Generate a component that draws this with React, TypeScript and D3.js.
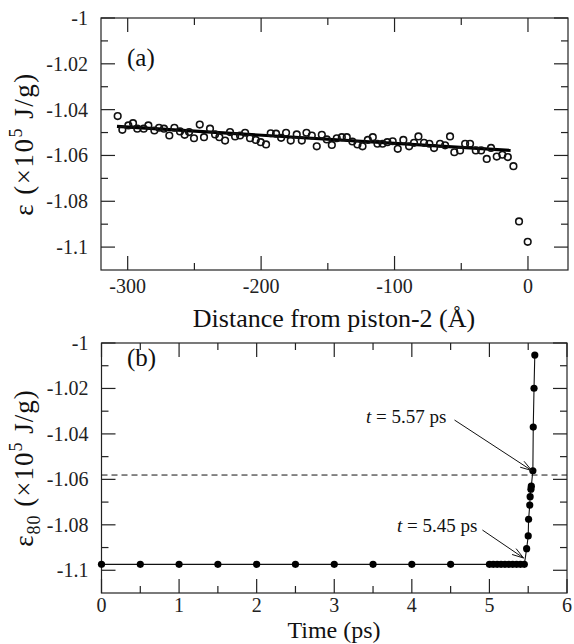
import React from 'react';
import * as d3 from 'd3';

// ---------- Panel (a) data ----------
const distA = [
  -307.5, -304, -299.5, -296, -292.8, -288, -284.5, -280, -276.5, -272.8, -268.8, -265, -260.8, -257.3,
  -254, -250.3, -246, -242.8, -238.3, -234.5, -231.3, -227, -223.3, -219.5, -215.8, -212, -208.3, -204,
  -200.3, -196.3, -192.8, -188.8, -185, -181.3, -177.8, -173.3, -169.5, -166, -162, -158.3, -154.5, -150.8,
  -147, -143.3, -139.5, -135.8, -131.6, -127.8, -124, -120, -116.3, -112.8, -109, -105.4, -101.4, -97.6,
  -93.4, -89.1, -85.4, -82.1, -77.9, -73.9, -70.4, -65.9, -62.1, -58.4, -55.2, -50.9, -47.1, -43.4,
  -39.1, -35.1, -30.9, -27.7, -23.4, -19.2, -15.1, -10.9, -6.7, -0.2,
];
const epsA = [
  -1.0428, -1.0488, -1.0469, -1.0459, -1.0483, -1.0483, -1.0469, -1.0491, -1.0479, -1.0483, -1.0513, -1.0479, -1.0495, -1.051,
  -1.0498, -1.0525, -1.0465, -1.052, -1.0483, -1.0508, -1.052, -1.0535, -1.0498, -1.0517, -1.0513, -1.0501, -1.0525, -1.0532,
  -1.0542, -1.0552, -1.0503, -1.0505, -1.0523, -1.0501, -1.0535, -1.0508, -1.0535, -1.0501, -1.0513, -1.056, -1.051, -1.053,
  -1.0554, -1.0525, -1.052, -1.052, -1.0539, -1.0552, -1.056, -1.0532, -1.052, -1.0549, -1.0549, -1.0542, -1.0538, -1.0571,
  -1.0532, -1.056, -1.0545, -1.0517, -1.0545, -1.0549, -1.0568, -1.0549, -1.0556, -1.0517, -1.0586, -1.0578, -1.0549, -1.0549,
  -1.0578, -1.0578, -1.0615, -1.0567, -1.0605, -1.0597, -1.0607, -1.0647, -1.0888, -1.0977,
];
const fitDist = [-308, -13];
const fitEps = [-1.0473, -1.0578];

// ---------- Panel (b) data ----------
const timeB = [
  0, 0.5, 1, 1.5, 2, 2.5, 3, 3.5, 4, 4.5,
  5.0, 5.05, 5.1, 5.15, 5.2, 5.25, 5.3, 5.35, 5.4, 5.45,
  5.48, 5.5, 5.505, 5.52, 5.525, 5.535, 5.54, 5.56, 5.565, 5.575, 5.585,
];
const epsB = [
  -1.0974, -1.0974, -1.0974, -1.0974, -1.0974, -1.0974, -1.0974, -1.0974, -1.0974, -1.0974,
  -1.0974, -1.0974, -1.0974, -1.0974, -1.0974, -1.0974, -1.0974, -1.0974, -1.0974, -1.0974,
  -1.0905, -1.0849, -1.0776, -1.0713, -1.0676, -1.0643, -1.063, -1.0562, -1.037, -1.0199, -1.0053,
];
const thresholdB = -1.0581;

// annotations: label time value, text anchor (t, eps), arrow start (t, eps), arrow tip (t, eps)
const annoLabels = ['5.57', '5.45'];
const annoTextT = [3.41, 3.81];
const annoTextE = [-1.0352, -1.0832];
const annoFromT = [4.55, 4.91];
const annoFromE = [-1.0339, -1.0823];
const annoToT = [5.545, 5.44];
const annoToE = [-1.0561, -1.0946];

// ---------- ticks ----------
const yMajor = [-1.1, -1.08, -1.06, -1.04, -1.02, -1];
const yMinor = [-1.09, -1.07, -1.05, -1.03, -1.01];
const yLabels = ['-1.1', '-1.08', '-1.06', '-1.04', '-1.02', '-1'];
const xMajorA = [-300, -200, -100, 0];
const xMinorA = [-250, -150, -50];
const xLabelsA = ['-300', '-200', '-100', '0'];
const xMajorB = [0, 1, 2, 3, 4, 5, 6];
const xMinorB = [0.5, 1.5, 2.5, 3.5, 4.5, 5.5];
const xLabelsB = ['0', '1', '2', '3', '4', '5', '6'];

const FONT = "'Liberation Serif', 'DejaVu Serif', serif";
const MAJ = 14;
const MIN = 7;
const TICK_FS = 20;
const TITLE_FS = 26;

type Scale = d3.ScaleLinear<number, number>;

function Frame({ x, y, xMajor, xMinor, xLabels, labelDy }: { x: Scale; y: Scale; xMajor: number[]; xMinor: number[]; xLabels: string[]; labelDy: number }) {
  const [x0, x1] = x.range();
  const [y0, y1] = y.range(); // y0 bottom, y1 top
  const c = '#222';
  return (
    <g>
      <rect x={x0} y={y1} width={x1 - x0} height={y0 - y1} fill="none" stroke={c} strokeWidth={1.2} />
      {xMajor.map((v, i) => (
        <g key={'xm' + i}>
          <line x1={x(v)} x2={x(v)} y1={y0} y2={y0 - MAJ} stroke={c} strokeWidth={1.2} />
          <line x1={x(v)} x2={x(v)} y1={y1} y2={y1 + MAJ} stroke={c} strokeWidth={1.2} />
          <text x={x(v)} y={y0 + labelDy} textAnchor="middle" fontSize={TICK_FS} fontFamily={FONT} fill="#222">{xLabels[i]}</text>
        </g>
      ))}
      {xMinor.map((v, i) => (
        <g key={'xn' + i}>
          <line x1={x(v)} x2={x(v)} y1={y0} y2={y0 - MIN} stroke={c} strokeWidth={1.2} />
          <line x1={x(v)} x2={x(v)} y1={y1} y2={y1 + MIN} stroke={c} strokeWidth={1.2} />
        </g>
      ))}
      {yMajor.map((v, i) => (
        <g key={'ym' + i}>
          <line x1={x0} x2={x0 + MAJ} y1={y(v)} y2={y(v)} stroke={c} strokeWidth={1.2} />
          <line x1={x1} x2={x1 - MAJ} y1={y(v)} y2={y(v)} stroke={c} strokeWidth={1.2} />
          <text x={x0 - 13} y={y(v)} dy="0.35em" textAnchor="end" fontSize={TICK_FS} fontFamily={FONT} fill="#222">{yLabels[i]}</text>
        </g>
      ))}
      {yMinor.map((v, i) => (
        <g key={'yn' + i}>
          <line x1={x0} x2={x0 + MIN} y1={y(v)} y2={y(v)} stroke={c} strokeWidth={1.2} />
          <line x1={x1} x2={x1 - MIN} y1={y(v)} y2={y(v)} stroke={c} strokeWidth={1.2} />
        </g>
      ))}
    </g>
  );
}

export default function App() {
  const xA = d3.scaleLinear().domain([-320, 30]).range([101, 568]);
  const yA = d3.scaleLinear().domain([-1.11, -1]).range([270, 18]);
  const xB = d3.scaleLinear().domain([0, 6]).range([101.5, 567]);
  const yB = d3.scaleLinear().domain([-1.11, -1]).range([593, 343]);

  const fitLine = d3.line<number>().x((d) => xA(d)).y((_, i) => yA(fitEps[i]));
  const lineB = d3.line<number>().x((d) => xB(d)).y((_, i) => yB(epsB[i]));

  const arrowHead = (fx: number, fy: number, tx: number, ty: number) => {
    const ang = Math.atan2(ty - fy, tx - fx);
    const L = 12, a = 0.3;
    const p1 = [tx - L * Math.cos(ang - a), ty - L * Math.sin(ang - a)];
    const p2 = [tx - L * Math.cos(ang + a), ty - L * Math.sin(ang + a)];
    return `M${p1[0]},${p1[1]}L${tx},${ty}L${p2[0]},${p2[1]}`;
  };

  return (
    <svg width={574} height={644} style={{ position: 'absolute', left: 0, top: 0, background: '#fff' }}>
      <rect width={574} height={644} fill="#fff" />
      {/* Panel (a) */}
      <Frame x={xA} y={yA} xMajor={xMajorA} xMinor={xMinorA} xLabels={xLabelsA} labelDy={23} />
      <path d={fitLine(fitDist) || ''} fill="none" stroke="#000" strokeWidth={3.2} />
      {distA.map((d, i) => (
        <circle key={'a' + i} cx={xA(d)} cy={yA(epsA[i])} r={3.3} fill="none" stroke="#111" strokeWidth={1.6} />
      ))}
      <text x={127} y={66} fontSize={25} fontFamily={FONT} fill="#111">(a)</text>
      <text x={334} y={327} textAnchor="middle" fontSize={TITLE_FS} fontFamily={FONT} fill="#111">Distance from piston-2 (Å)</text>
      <text transform={`translate(33,${(18 + 270) / 2}) rotate(-90)`} textAnchor="middle" fontSize={27} letterSpacing={1.5} fontFamily={FONT} fill="#111">
        ε (×10<tspan dy={-11} fontSize={18}>5</tspan><tspan dy={11}> J/g)</tspan>
      </text>

      {/* Panel (b) */}
      <Frame x={xB} y={yB} xMajor={xMajorB} xMinor={xMinorB} xLabels={xLabelsB} labelDy={19} />
      <line x1={xB(0)} x2={xB(6)} y1={yB(thresholdB)} y2={yB(thresholdB)} stroke="#111" strokeWidth={1} strokeDasharray="6,4" />
      <path d={lineB(timeB) || ''} fill="none" stroke="#111" strokeWidth={1.1} />
      {timeB.map((t, i) => (
        <circle key={'b' + i} cx={xB(t)} cy={yB(epsB[i])} r={3.6} fill="#000" />
      ))}
      {annoLabels.map((lab, i) => {
        const fx = xB(annoFromT[i]), fy = yB(annoFromE[i]);
        const tx = xB(annoToT[i]), ty = yB(annoToE[i]);
        return (
          <g key={'an' + i}>
            <text x={xB(annoTextT[i])} y={yB(annoTextE[i])} fontSize={19} fontFamily={FONT} fill="#111">
              <tspan fontStyle="italic">t</tspan> = {lab} ps
            </text>
            <line x1={fx} y1={fy} x2={tx} y2={ty} stroke="#111" strokeWidth={1} />
            <path d={arrowHead(fx, fy, tx, ty)} fill="none" stroke="#111" strokeWidth={1} />
          </g>
        );
      })}
      <text x={127} y={366} fontSize={25} fontFamily={FONT} fill="#111">(b)</text>
      <text x={334} y={638} textAnchor="middle" fontSize={24} fontFamily={FONT} fill="#111">Time (ps)</text>
      <text transform={`translate(33,${(343 + 593) / 2}) rotate(-90)`} textAnchor="middle" fontSize={27} letterSpacing={1} fontFamily={FONT} fill="#111">
        ε<tspan dy={7} fontSize={18}>80</tspan><tspan dy={-7}> (×10</tspan><tspan dy={-11} fontSize={18}>5</tspan><tspan dy={11}> J/g)</tspan>
      </text>
    </svg>
  );
}
